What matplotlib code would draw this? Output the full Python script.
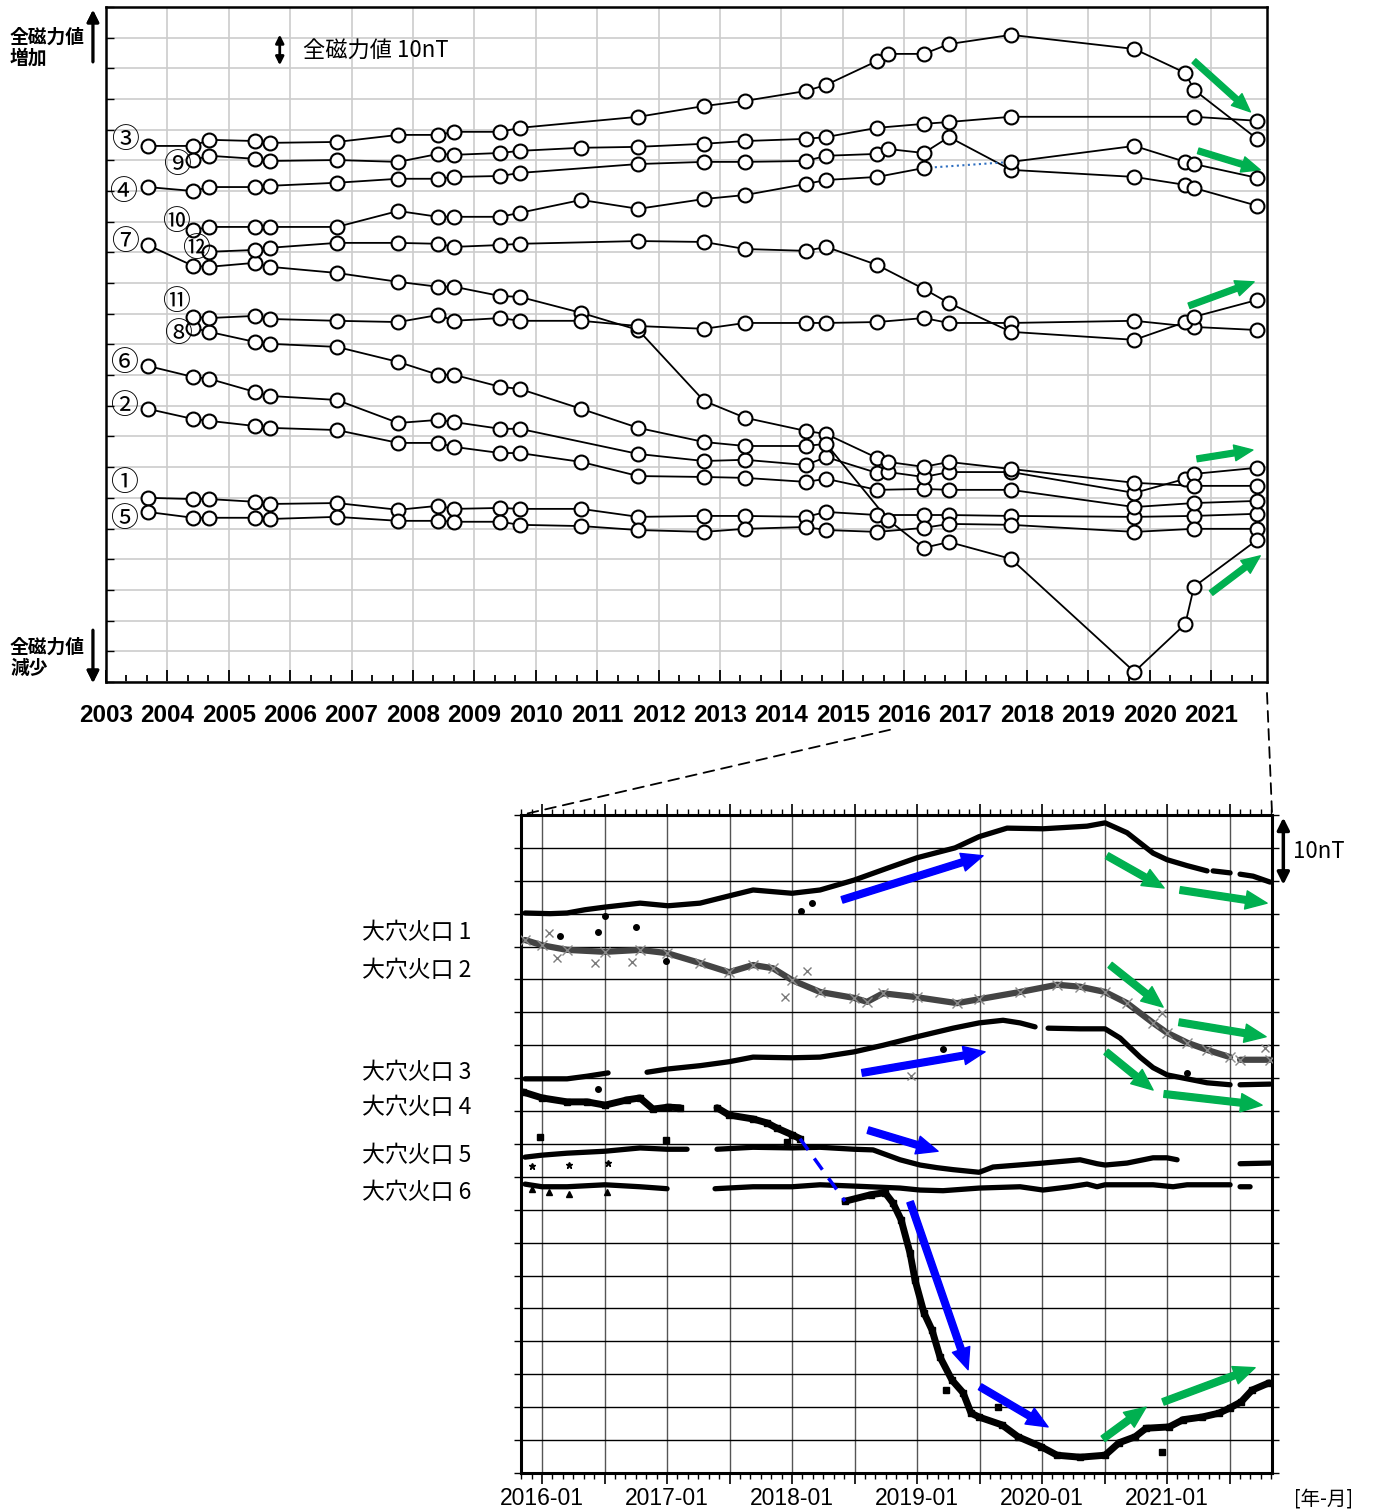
import numpy as np
import matplotlib.pyplot as plt
from matplotlib.patches import ConnectionPatch
from matplotlib.ticker import MultipleLocator

plt.rcParams['font.family'] = ['Noto Sans CJK JP', 'DejaVu Sans']

nan = np.nan

# ---- top panel: repeat survey points (decimal year, total field in nT, arbitrary offset)
survey_t = [2003.68, 2004.42, 2004.68, 2005.43, 2005.67, 2006.76, 2007.76, 2008.41,
            2008.67, 2009.42, 2009.74, 2010.74, 2011.67, 2012.74, 2013.41, 2014.40,
            2014.73, 2015.56, 2015.74, 2016.32, 2016.73, 2017.74, 2019.75, 2020.58,
            2020.72, 2021.75]

pt1 = [60.0, 59.6, 59.6, 58.7, 58.0, 58.3, 56.1, 57.4, 56.4, 56.7, 56.4, 56.4, 53.8,
       54.1, 54.1, 53.8, 55.4, 54.4, nan, 54.4, 54.4, 54.1, 53.8, nan, 54.1, 54.8]
pt2 = [89.0, 85.7, 85.1, 83.4, 82.8, 82.1, 77.9, 77.9, 76.6, 74.6, 74.6, 71.7, 67.1,
       66.8, 66.5, 65.2, 66.2, 62.6, nan, 62.9, 62.6, 62.6, 57.0, nan, 58.3, 59.0]
pt3 = [174.7, 174.7, 176.7, 176.3, 175.7, 176.0, 178.3, 178.3, 179.3, 179.3, 180.6, nan,
       184.2, 187.7, 189.4, 192.6, 194.6, 202.4, 204.7, 204.7, 207.9, 210.9, 206.3,
       198.5, 193.0, 177.0]
pt4 = [161.3, 160.0, 161.3, 161.3, 161.7, 162.7, 164.0, 164.0, 164.6, 164.9, 165.9, nan,
       168.8, 169.5, 169.5, 169.8, 171.5, 172.1, 173.7, 172.4, 177.6, 166.9, 164.6,
       162.0, 161.0, 155.2]
pt5 = [55.4, 53.5, 53.5, 53.5, 53.1, 53.8, 52.5, 52.5, 52.2, 52.2, 51.2, 50.8, 49.5,
       48.9, 49.9, 50.5, 49.5, 48.9, nan, 50.2, 51.5, 51.2, 48.9, nan, 49.9, 49.9]
pt6 = [103.0, 99.4, 98.8, 94.5, 93.2, 91.9, 84.4, 85.4, 84.7, 82.5, 82.5, nan, 74.3,
       72.0, 72.4, 70.7, 73.3, 68.1, 68.4, 66.8, 68.4, 68.4, 61.6, 66.2, 67.8, 69.8]
pt7 = [142.4, 135.6, 135.3, 136.6, 135.3, 133.3, 130.4, 128.8, 128.8, 125.8, 125.5,
       120.3, 114.7, 91.6, 86.1, 81.8, 80.8, 73.0, 71.7, 70.1, 71.7, 69.4, 64.9, nan,
       63.9, 63.9]
pt8 = [nan, 115.4, 114.1, 110.8, 110.2, 109.2, 104.3, 100.1, 100.1, 96.2, 95.5, 89.0,
       82.8, 78.2, 76.9, 76.9, 77.6, nan, 52.8, 43.7, 45.6, 40.1, 3.3, 18.9, 31.0, 46.3]
pt9 = [nan, 170.1, 171.5, 170.5, 169.8, 170.1, 169.5, 172.1, 171.8, 172.4, 173.1, 174.1,
       174.4, 175.4, 176.3, 177.0, 177.6, 180.6, nan, 181.9, 182.5, 184.2, nan, nan,
       184.2, 182.9]
pt10 = [nan, 147.3, 148.3, 148.3, 148.3, 148.3, 153.5, 151.6, 151.6, 151.6, 152.9, 157.1,
        154.2, 157.4, 158.7, 162.3, 163.6, 164.6, nan, 167.5, nan, 169.5, 174.7, 169.5,
        168.8, 164.3]
pt11 = [nan, 119.0, 118.6, 119.3, 118.3, 117.7, 117.3, 119.6, 117.7, 118.6, 117.7, 117.7,
        116.0, 115.1, 117.0, 117.0, 117.0, 117.3, nan, 118.6, 117.0, 117.0, 117.7, nan,
        115.7, 114.7]
pt12 = [nan, nan, 140.2, 140.8, 141.5, 143.1, 143.1, 142.8, 141.8, 142.4, 142.8, nan,
        143.7, 143.4, 141.1, 140.5, 141.8, 135.9, nan, 128.1, 123.5, 114.1, 111.5, 117.3,
        119.0, 124.5]

point_names = ['①', '②', '③', '④', '⑤', '⑥', '⑦', '⑧', '⑨', '⑩', '⑪', '⑫']
point_series = [pt1, pt2, pt3, pt4, pt5, pt6, pt7, pt8, pt9, pt10, pt11, pt12]
name_pos = [(2003.29, 64.9), (2003.29, 90.0), (2003.31, 176.7), (2003.28, 159.7),
            (2003.29, 53.1), (2003.29, 104.0), (2003.31, 143.4), (2004.17, 113.4),
            (2004.16, 168.5), (2004.14, 149.9), (2004.14, 123.9), (2004.47, 141.1)]
top_years = list(range(2003, 2022))

# ---- bottom panel: continuous stations (decimal year, nT, arbitrary offset)
s1_t = [2015.864, 2016.064, 2016.2, 2016.344, 2016.504, 2016.784, 2017.008, 2017.264,
        2017.496, 2017.688, 2018.0, 2018.224, 2018.496, 2018.76, 2019.0, 2019.304,
        2019.496, 2019.72, 2020.008, 2020.36, 2020.504, 2020.68, 2020.888, 2021.0,
        2021.16, 2021.32, 2021.34, 2021.368, 2021.504, 2021.544, 2021.584, 2021.688,
        2021.824]
s1_v = [85.1, 85.0, 85.1, 85.6, 86.0, 86.6, 86.2, 86.6, 87.7, 88.6, 88.1, 88.6, 90.1,
        91.9, 93.5, 95.0, 96.7, 98.0, 97.9, 98.3, 98.8, 97.3, 94.2, 93.2, 92.3, 91.5,
        nan, 91.5, 91.2, nan, 91.0, 90.7, 89.8]
s2_t = [2015.864, 2016.0, 2016.2, 2016.504, 2016.784, 2017.0, 2017.264, 2017.496,
        2017.688, 2017.848, 2018.0, 2018.224, 2018.496, 2018.6, 2018.728, 2019.0,
        2019.32, 2019.496, 2019.824, 2020.12, 2020.304, 2020.504, 2020.68, 2020.888,
        2021.0, 2021.16, 2021.32, 2021.504, 2021.544, 2021.584, 2021.824]
s2_v = [81.0, 80.2, 79.5, 79.2, 79.5, 79.0, 77.5, 76.1, 77.2, 76.7, 74.9, 73.1, 72.2,
        71.6, 72.9, 72.3, 71.4, 72.0, 73.1, 74.2, 73.9, 73.1, 71.4, 68.4, 66.9, 65.4,
        64.3, 63.2, nan, 62.8, 62.8]
s3_t = [2015.864, 2016.2, 2016.36, 2016.528, 2016.68, 2016.84, 2017.008, 2017.264,
        2017.496, 2017.688, 2018.0, 2018.224, 2018.496, 2018.728, 2019.0, 2019.288,
        2019.496, 2019.688, 2019.824, 2019.944, 2019.99, 2020.048, 2020.304, 2020.504,
        2020.624, 2020.784, 2020.888, 2021.0, 2021.16, 2021.32, 2021.504, 2021.544,
        2021.584, 2021.824]
s3_v = [59.9, 59.9, 60.3, 60.8, nan, 60.9, 61.4, 61.9, 62.5, 63.2, 63.1, 63.2, 64.0,
        65.0, 66.3, 67.6, 68.4, 68.8, 68.4, 67.8, nan, 67.6, 67.5, 67.5, 66.1, 63.2,
        61.6, 60.5, 59.9, 59.3, 59.0, nan, 59.0, 59.1]
s4_t = [2015.848, 2016.0, 2016.2, 2016.36, 2016.504, 2016.68, 2016.784, 2016.888,
        2017.008, 2017.104, 2017.25, 2017.4, 2017.496, 2017.688, 2017.8, 2017.88, 2018.0,
        2018.064, 2018.25, 2018.424, 2018.632, 2018.744, 2018.808, 2018.872, 2018.944,
        2018.984, 2019.056, 2019.12, 2019.184, 2019.28, 2019.368, 2019.432, 2019.496,
        2019.68, 2019.808, 2019.992, 2020.12, 2020.304, 2020.504, 2020.616, 2020.744,
        2020.832, 2021.016, 2021.128, 2021.28, 2021.416, 2021.504, 2021.592, 2021.68,
        2021.816]
s4_v = [57.9, 57.0, 56.4, 56.4, 55.9, 56.7, 57.0, 55.3, 55.6, 55.5, nan, 55.5, 54.4,
        53.8, 53.2, 52.4, 51.4, 50.8, nan, 41.3, 42.3, 42.6, 41.0, 38.5, 33.4, 29.3,
        24.3, 21.7, 17.6, 14.1, 12.2, 9.1, 8.5, 7.3, 5.5, 4.0, 2.7, 2.4, 2.7, 4.6, 5.5,
        6.8, 7.0, 8.1, 8.5, 9.1, 9.9, 10.8, 12.6, 13.7]
s5_t = [2015.864, 2016.0, 2016.2, 2016.504, 2016.784, 2017.0, 2017.16, 2017.28, 2017.4,
        2017.688, 2018.0, 2018.224, 2018.496, 2018.648, 2018.864, 2019.024, 2019.16,
        2019.288, 2019.496, 2019.608, 2020.008, 2020.304, 2020.44, 2020.504, 2020.68,
        2020.888, 2021.0, 2021.08, 2021.3, 2021.584, 2021.824]
s5_v = [48.0, 48.3, 48.6, 48.9, 49.4, 49.2, 49.2, nan, 49.2, 49.5, 49.4, 49.5, 49.2,
        49.1, 47.6, 46.8, 46.4, 46.1, 45.7, 46.5, 47.1, 47.6, 47.0, 46.8, 47.1, 47.9,
        47.9, 47.6, nan, 47.0, 47.1]
s6_t = [2015.864, 2016.0, 2016.2, 2016.504, 2016.784, 2017.0, 2017.2, 2017.384, 2017.688,
        2018.0, 2018.224, 2018.496, 2018.864, 2019.024, 2019.208, 2019.496, 2019.824,
        2020.008, 2020.224, 2020.36, 2020.44, 2020.504, 2020.888, 2021.048, 2021.16,
        2021.32, 2021.504, 2021.544, 2021.584, 2021.664]
s6_v = [43.9, 43.5, 43.5, 43.8, 43.5, 43.2, nan, 43.2, 43.5, 43.5, 43.8, 43.6, 43.3,
        43.0, 42.9, 43.3, 43.5, 43.0, 43.5, 43.9, 43.5, 43.8, 43.8, 43.5, 43.8, 43.8,
        43.8, nan, 43.5, 43.5]

# scattered outliers
dot_t = [2016.144, 2016.448, 2016.752, 2016.504, 2016.992, 2018.072, 2018.16, 2016.448,
         2019.208, 2021.16]
dot_v = [81.6, 82.2, 83.0, 84.7, 77.8, 85.4, 86.6, 58.4, 64.4, 60.8]
cross_t = [2016.056, 2016.12, 2016.424, 2016.72, 2017.944, 2018.12, 2018.952, 2020.96,
           2021.784]
cross_v = [82.1, 78.3, 77.5, 77.7, 72.3, 76.3, 60.3, 69.9, 64.6]
square_t = [2015.984, 2016.992, 2017.96, 2019.232, 2019.648, 2020.96]
square_v = [51.1, 50.6, 50.3, 12.6, 10.0, 3.2]
star_t = [2015.92, 2016.216, 2016.528]
star_v = [46.7, 46.8, 47.1]
tri_t = [2015.92, 2016.056, 2016.216, 2016.52]
tri_v = [43.2, 42.7, 42.4, 42.7]

station_names = ['大穴火口 1', '大穴火口 2', '大穴火口 3', '大穴火口 4', '大穴火口 5', '大穴火口 6']
station_label_y = [82.2, 76.3, 60.8, 55.5, 48.3, 42.6]
bottom_years = list(range(2016, 2022))

GREEN = '#00b050'
BLUE = '#0000ff'


def arrow(ax, p0, p1, color, scale=20):
    ax.annotate('', xy=p1, xytext=p0, annotation_clip=False,
                arrowprops=dict(arrowstyle='simple,head_length=0.7,head_width=0.6,tail_width=0.22',
                                color=color, mutation_scale=scale, shrinkA=0, shrinkB=0))


fig = plt.figure(figsize=(13.73, 15.12), dpi=100)
ax1 = fig.add_axes([0.0772, 0.549, 0.8456, 0.4464])
ax2 = fig.add_axes([0.3795, 0.0258, 0.547, 0.4352])

# ================= top panel =================
t = np.array(survey_t)
for vals in point_series:
    v = np.array(vals)
    if vals is pt10:
        # segment 2016.32 -> 2017.74 drawn dotted in blue
        a, b = 19, 21
        for part in (slice(0, a + 1), slice(b, None)):
            tt, vv = t[part], v[part]
            m = ~np.isnan(vv)
            ax1.plot(tt[m], vv[m], '-', color='black', lw=1.3, zorder=3)
        ax1.plot([t[a], t[b]], [v[a], v[b]], ':', color='#2f6fc0', lw=1.5, zorder=3)
    else:
        m = ~np.isnan(v)
        ax1.plot(t[m], v[m], '-', color='black', lw=1.3, zorder=3)
for vals in point_series:
    v = np.array(vals)
    m = ~np.isnan(v)
    ax1.plot(t[m], v[m], 'o', ms=10, mfc='white', mec='black', mew=1.5, zorder=4)

for name, (x, y) in zip(point_names, name_pos):
    ax1.text(x, y, name, fontsize=20, ha='center', va='center', zorder=5,
             family=['Noto Sans CJK JP', 'DejaVu Sans'])

ax1.set_xlim(2003, 2021.91)
ax1.set_ylim(0, 220)
ax1.set_xticks(top_years)
ax1.set_xticklabels([str(y) for y in top_years])
ax1.xaxis.set_minor_locator(MultipleLocator(1 / 3))
ax1.set_yticks(np.arange(0, 221, 10))
ax1.set_yticklabels([])
ax1.grid(True, color='#cccccc', lw=1.2)
ax1.set_axisbelow(True)
ax1.tick_params(axis='x', which='major', direction='in', length=9, width=1.3, pad=16)
ax1.tick_params(axis='x', which='minor', direction='in', length=5, width=1.3)
ax1.tick_params(axis='y', direction='in', length=6, width=1.0)
for lab in ax1.get_xticklabels():
    lab.set_family('Liberation Sans')
    lab.set_fontweight('bold')
    lab.set_fontsize(17.5)
for sp in ax1.spines.values():
    sp.set_linewidth(1.8)

# 10 nT scale
ax1.annotate('', xy=(2005.83, 211.0), xytext=(2005.83, 201.0),
             arrowprops=dict(arrowstyle='<|-|>', color='black', lw=2, mutation_scale=12,
                             shrinkA=0, shrinkB=0))
ax1.text(2006.21, 205.8, '全磁力値 10nT', fontsize=16, va='center', ha='left')

for p0, p1 in [((2020.72, 202.4), (2021.64, 185.8)),
               ((2020.79, 173.1), (2021.80, 166.9)),
               ((2020.64, 122.6), (2021.70, 130.4)),
               ((2020.77, 72.7), (2021.68, 75.6)),
               ((2021.00, 29.0), (2021.80, 41.1))]:
    arrow(ax1, p0, p1, GREEN, scale=19)

# increase / decrease captions
fig.text(0.0073, 0.9815, '全磁力値\n増加', fontsize=13.5, fontweight='bold', va='top',
         ha='left', linespacing=1.1)
fig.text(0.0073, 0.578, '全磁力値\n減少', fontsize=13.5, fontweight='bold', va='top',
         ha='left', linespacing=1.1)
fig.add_artist(plt.annotate('', xy=(0.0677, 0.9934), xytext=(0.0677, 0.959),
                            xycoords='figure fraction',
                            arrowprops=dict(arrowstyle='-|>', color='black', lw=2,
                                            mutation_scale=18, shrinkA=0, shrinkB=0)))
fig.add_artist(plt.annotate('', xy=(0.0677, 0.5483), xytext=(0.0677, 0.5833),
                            xycoords='figure fraction',
                            arrowprops=dict(arrowstyle='-|>', color='black', lw=2,
                                            mutation_scale=18, shrinkA=0, shrinkB=0)))

# ================= bottom panel =================
ax2.plot(s1_t, s1_v, '-', color='black', lw=3.8, solid_capstyle='round', zorder=3)
ax2.plot(s2_t, s2_v, '-', color='#444444', lw=4.5, solid_capstyle='round', zorder=3)
ax2.plot(s2_t, s2_v, 'x', color='#8a8a8a', ms=7, mew=1, zorder=3)
ax2.plot(s3_t, s3_v, '-', color='black', lw=3.8, solid_capstyle='round', zorder=3)
ax2.plot(s4_t, s4_v, '-', color='black', lw=5.0, solid_capstyle='round', zorder=3)
ax2.plot(s4_t, s4_v, 's', color='black', ms=4.5, zorder=3)
ax2.plot(s5_t, s5_v, '-', color='black', lw=3.8, solid_capstyle='round', zorder=3)
ax2.plot(s6_t, s6_v, '-', color='black', lw=3.8, solid_capstyle='round', zorder=3)

ax2.plot(dot_t, dot_v, 'o', color='black', ms=4, zorder=3)
ax2.plot(cross_t, cross_v, 'x', color='#7a7a7a', ms=6, mew=1, zorder=3)
ax2.plot(square_t, square_v, 's', color='black', ms=5, zorder=3)
ax2.plot(star_t, star_v, '*', color='black', ms=5, zorder=3)
ax2.plot(tri_t, tri_v, '^', color='black', ms=4, zorder=3)

# station 4 bridge across the data gap
ga, gb = 17, 19
ax2.plot([s4_t[ga], s4_t[gb]], [s4_v[ga], s4_v[gb]], '--', color=BLUE, lw=2.5,
         dashes=(4, 3), zorder=3)

for p0, p1 in [((2018.40, 87.1), (2019.528, 93.8)),
               ((2018.56, 60.8), (2019.544, 64.0)),
               ((2018.608, 52.1), (2019.168, 48.9)),
               ((2018.944, 41.2), (2019.408, 15.7)),
               ((2019.504, 13.1), (2020.048, 7.0))]:
    arrow(ax2, p0, p1, BLUE, scale=22)
for p0, p1 in [((2020.52, 93.8), (2020.976, 88.9)),
               ((2021.104, 88.6), (2021.80, 86.6)),
               ((2020.544, 77.2), (2020.968, 70.8)),
               ((2021.096, 68.5), (2021.792, 66.3)),
               ((2020.512, 64.0), (2020.888, 58.2)),
               ((2020.976, 57.6), (2021.76, 55.9)),
               ((2020.488, 5.2), (2020.832, 10.0)),
               ((2020.968, 10.8), (2021.704, 16.0))]:
    arrow(ax2, p0, p1, GREEN, scale=22)

ax2.set_xlim(2015.832, 2021.84)
ax2.set_ylim(0, 100)
half_years = np.arange(2016.0, 2021.75, 0.5)
ax2.set_xticks(half_years)
ax2.set_xticklabels([f'{int(h)}-01' if h % 1 == 0 else '' for h in half_years])
ax2.xaxis.set_minor_locator(MultipleLocator(1 / 12))
ax2.set_yticks(np.arange(0, 101, 5))
ax2.set_yticklabels([])
ax2.grid(True, axis='x', color='#555555', lw=1.0)
ax2.grid(True, axis='y', color='black', lw=1.0)
ax2.set_axisbelow(True)
ax2.tick_params(axis='x', which='major', direction='out', length=8, width=1.2,
                top=True, bottom=True, pad=2)
ax2.tick_params(axis='x', which='minor', direction='out', length=4, width=1.0,
                top=True, bottom=True)
ax2.tick_params(axis='y', direction='out', length=5, width=1.0, left=True, right=True)
for lab in ax2.get_xticklabels():
    lab.set_family('Liberation Sans')
    lab.set_fontsize(16.5)
for sp in ax2.spines.values():
    sp.set_linewidth(2.2)

for name, y in zip(station_names, station_label_y):
    ax2.text(2014.56, y, name, fontsize=16.5, ha='left', va='center', clip_on=False)

ax2.annotate('', xy=(2021.93, 99.6), xytext=(2021.93, 89.4), annotation_clip=False,
             arrowprops=dict(arrowstyle='<|-|>', color='black', lw=2.5, mutation_scale=18,
                             shrinkA=0, shrinkB=0))
ax2.text(2022.01, 94.5, '10nT', fontsize=16, ha='left', va='center', clip_on=False)
ax2.text(2022.25, -3.9, '[年-月]', fontsize=14, ha='center', va='center', clip_on=False)

# zoom connectors between the panels
for xa, ya, xb, yb in [(2015.77, -15.6, 2015.832, 100), (2021.91, -3.6, 2021.84, 100)]:
    con = ConnectionPatch(xyA=(xa, ya), coordsA=ax1.transData,
                          xyB=(xb, yb), coordsB=ax2.transData,
                          color='black', lw=1.3, ls=(0, (6, 4)))
    fig.add_artist(con)

fig.savefig('out.png', dpi=100)
